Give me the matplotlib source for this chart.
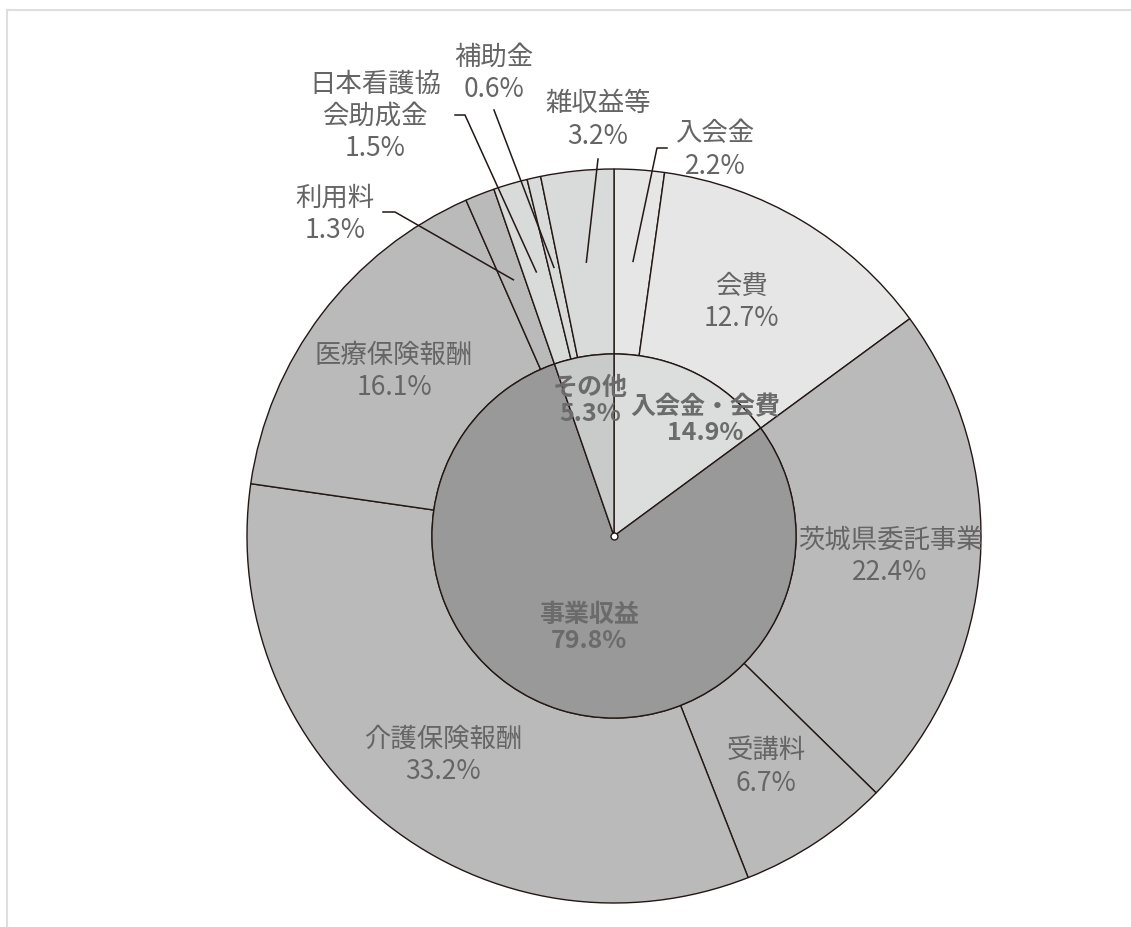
import numpy as np
import matplotlib
matplotlib.use("Agg")
import matplotlib.pyplot as plt
from matplotlib.lines import Line2D

plt.rcParams['font.family'] = ['Noto Sans CJK JP', 'DejaVu Sans']

# data
outer_labels = ['入会金', '会費', '茨城県委託事業', '受講料', '介護保険報酬',
                '医療保険報酬', '利用料', '日本看護協\n会助成金', '補助金', '雑収益等']
outer_values = [2.2, 12.7, 22.4, 6.7, 33.2, 16.1, 1.3, 1.5, 0.6, 3.2]
outer_group = [0, 0, 1, 1, 1, 1, 1, 2, 2, 2]

inner_labels = ['入会金・会費', '事業収益', 'その他']
inner_values = [14.9, 79.8, 5.3]

# styles
edge = '#231815'
outer_colors = ['#e6e6e6', '#b9bab9', '#d9dada']
inner_colors = ['#dcdddd', '#999999', '#c9caca']
txt_color = '#656565'
r_in = 0.496

# layout (reference pixel positions, converted below)
W, H = 1131, 927
cx, cy, R = 614, 536, 367


def to_data(px, py):
    return (px - cx) / R, (cy - py) / R


outer_pos = [(715, 150), (741, 302), (890, 556), (766, 767), (443, 755),
             (394, 371), (335, 214), (375, 116), (494, 73), (598, 120)]
# leader line path (outer end points) for small slices, None = inside label
leaders = [[(657, 148), (667, 148)], None, None, None, None, None,
           [(395, 212), (383, 212)], [(465, 115), (455, 115)],
           [(494, 110)], [(598, 159)]]
inner_pos = [(705, 420), (589, 628), (590, 401)]

fig = plt.figure(figsize=(W / 100, H / 100), dpi=100)
ax = fig.add_axes([0, 0, 1, 1])

wedges_o, _ = ax.pie(outer_values, radius=1, startangle=90, counterclock=False,
                     colors=[outer_colors[g] for g in outer_group],
                     wedgeprops=dict(width=1 - r_in, edgecolor=edge, linewidth=1.0))
wedges_i, _ = ax.pie(inner_values, radius=r_in, startangle=90, counterclock=False,
                     colors=inner_colors,
                     wedgeprops=dict(edgecolor=edge, linewidth=1.0))

for i, w in enumerate(wedges_o):
    lab = outer_labels[i] + '\n' + '{:.1f}%'.format(outer_values[i])
    x, y = to_data(*outer_pos[i])
    ax.text(x, y, lab, ha='center', va='center', fontsize=19,
            color=txt_color, linespacing=1.25, zorder=6)
    if leaders[i] is not None:
        ang = np.deg2rad((w.theta1 + w.theta2) / 2)
        xs = [0.75 * np.cos(ang)]
        ys = [0.75 * np.sin(ang)]
        for p in leaders[i]:
            dx, dy = to_data(*p)
            xs.append(dx)
            ys.append(dy)
        ax.plot(xs, ys, color=edge, lw=1.1, zorder=4)

for i, w in enumerate(wedges_i):
    lab = inner_labels[i] + '\n' + '{:.1f}%'.format(inner_values[i])
    x, y = to_data(*inner_pos[i])
    ax.text(x, y, lab, ha='center', va='center', fontsize=18,
            fontweight='bold', color='#6b6b6b', linespacing=1.1, zorder=6)

ax.plot(0, 0, 'o', ms=5, mfc='white', mec=edge, mew=1, zorder=7)

x0, y1 = to_data(0, 0)
x1, y0 = to_data(W, H)
ax.set_xlim(x0, x1)
ax.set_ylim(y0, y1)
ax.set_aspect('auto')
ax.axis('off')

# light frame (top and left edges)
fx, fy = 7 / W, 1 - 10 / H
fig.add_artist(Line2D([fx, 1], [fy, fy], transform=fig.transFigure,
                      color='#dedede', lw=1.5))
fig.add_artist(Line2D([fx, fx], [0, fy], transform=fig.transFigure,
                      color='#dedede', lw=1.5))

fig.savefig('out.png', dpi=100)
